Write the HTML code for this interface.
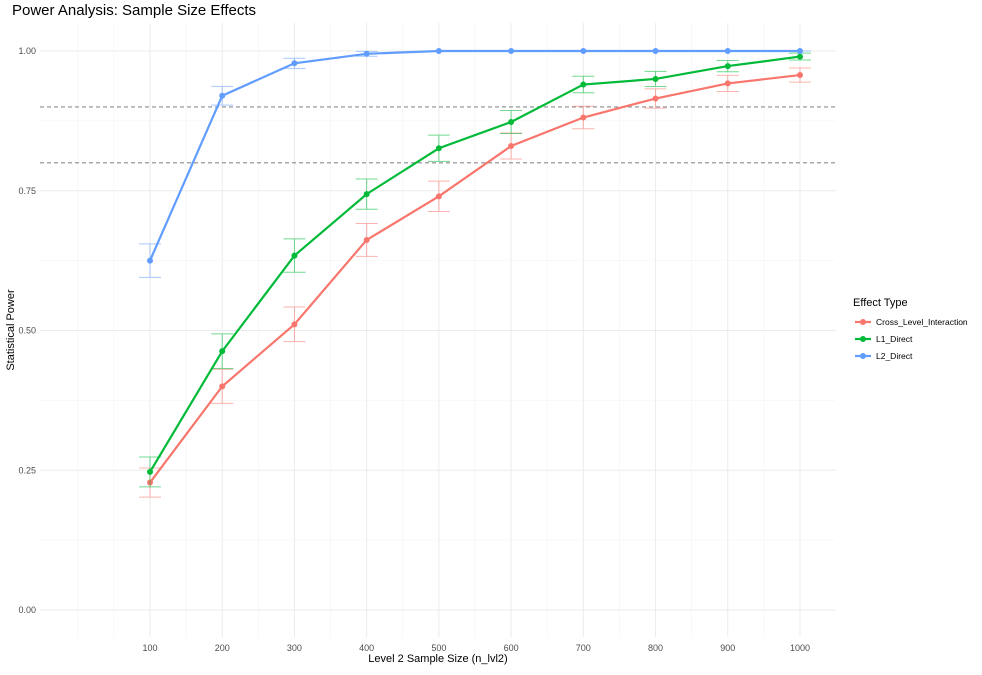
<!DOCTYPE html>
<html><head><meta charset="utf-8"><style>
body{margin:0;background:#fff;font-family:"Liberation Sans",Arial,sans-serif}
svg text{font-family:"Liberation Sans",Arial,sans-serif}
</style></head><body>
<svg id="chart" width="982" height="670" xmlns="http://www.w3.org/2000/svg">
<text x="12" y="15" font-size="15" fill="#000">Power Analysis: Sample Size Effects</text>
<g id="grid"></g><g id="marks"></g><g id="axes"></g>
<text x="438" y="662" font-size="11" text-anchor="middle">Level 2 Sample Size (n_lvl2)</text>
<text transform="translate(14,330) rotate(-90)" font-size="11" text-anchor="middle">Statistical Power</text>
<g>
<text x="853" y="306" font-size="11">Effect Type</text>
<g id="legend"></g></g>
</svg>
<script>
const categories=[100,200,300,400,500,600,700,800,900,1000];
const crossLevel=[0.228,0.400,0.511,0.662,0.740,0.830,0.881,0.915,0.942,0.957];
const l1Direct=[0.247,0.463,0.634,0.744,0.826,0.873,0.940,0.950,0.973,0.990];
const l2Direct=[0.625,0.920,0.978,0.995,1.000,1.000,1.000,1.000,1.000,1.000];
const seriesNames=["Cross_Level_Interaction","L1_Direct","L2_Direct"];
const xTicks=[100,200,300,400,500,600,700,800,900,1000];
const yTicks=[0,0.25,0.5,0.75,1.0];
const yTickLabels=["0.00","0.25","0.50","0.75","1.00"];
const refLines=[0.8,0.9];
const nSims=1000;
const colors=["#F8766D","#00BA38","#619CFF"];
const NS="http://www.w3.org/2000/svg";
const L=40,R=836,T=23,B=637;
const x=v=>150+(v-100)*0.7222;
const y=v=>610-v*559;
function mk(p,tag,at){const e=document.createElementNS(NS,tag);for(const k in at)e.setAttribute(k,at[k]);p.appendChild(e);return e;}
const grid=document.getElementById('grid'),marks=document.getElementById('marks'),axes=document.getElementById('axes'),leg=document.getElementById('legend');
for(let v=0;v<=1050;v+=50){const gx=x(v);if(gx<L||gx>R)continue;const l=mk(grid,'line',{x1:gx,x2:gx,y1:T,y2:B,stroke:v%100===0&&v>0?'#ebebeb':'#f3f3f3','stroke-width':v%100===0&&v>0?1:0.6});
}
for(let v=-0.125;v<=1.05;v+=0.125){const gy=y(v);if(gy<T||gy>B)continue;const maj=Math.abs(v/0.25-Math.round(v/0.25))<1e-6;const l=mk(grid,'line',{x1:L,x2:R,y1:gy,y2:gy,stroke:maj?'#ebebeb':'#f3f3f3','stroke-width':maj?1:0.6});
}
xTicks.forEach(t=>{const e=mk(axes,'text',{x:x(t),y:651,'font-size':9,'text-anchor':'middle',fill:'#4d4d4d'});e.textContent=t;
});
yTicks.forEach((t,i)=>{const e=mk(axes,'text',{x:36,y:y(t)+3,'font-size':9,'text-anchor':'end',fill:'#4d4d4d'});e.textContent=yTickLabels[i];
});
refLines.forEach(r=>{const l=mk(marks,'line',{x1:L,x2:R,y1:y(r),y2:y(r),stroke:'#8c8c8c','stroke-dasharray':'4,3','stroke-width':1.1});
});
[crossLevel,l1Direct,l2Direct].forEach((vals,s)=>{
 const g=mk(marks,'g',{});
 vals.forEach((p,i)=>{const se=1.96*Math.sqrt(p*(1-p)/nSims);const lo=Math.max(0,p-se),hi=Math.min(1,p+se);const cx=x(categories[i]);
  const eb=mk(g,'path',{d:`M${cx-11},${y(hi)}H${cx+11}M${cx},${y(hi)}V${y(lo)}M${cx-11},${y(lo)}H${cx+11}`,stroke:colors[s],'stroke-opacity':0.55,fill:'none','stroke-width':1});
  });
 const ln=mk(g,'polyline',{points:vals.map((p,i)=>x(categories[i])+','+y(p)).join(' '),fill:'none',stroke:colors[s],'stroke-width':2.2});
 
 vals.forEach((p,i)=>{const c=mk(g,'circle',{cx:x(categories[i]),cy:y(p),r:3,fill:colors[s]});
  });
 const ly=322+s*17;
 const ll=mk(leg,'line',{x1:855,x2:871,y1:ly,y2:ly,stroke:colors[s],'stroke-width':2.2});
 
 const lc=mk(leg,'circle',{cx:863,cy:ly,r:3,fill:colors[s]});
 
 const lt=mk(leg,'text',{x:876,y:ly+3,'font-size':8.5,fill:'#000'});lt.textContent=seriesNames[s];
 
});
</script>
</body></html>
